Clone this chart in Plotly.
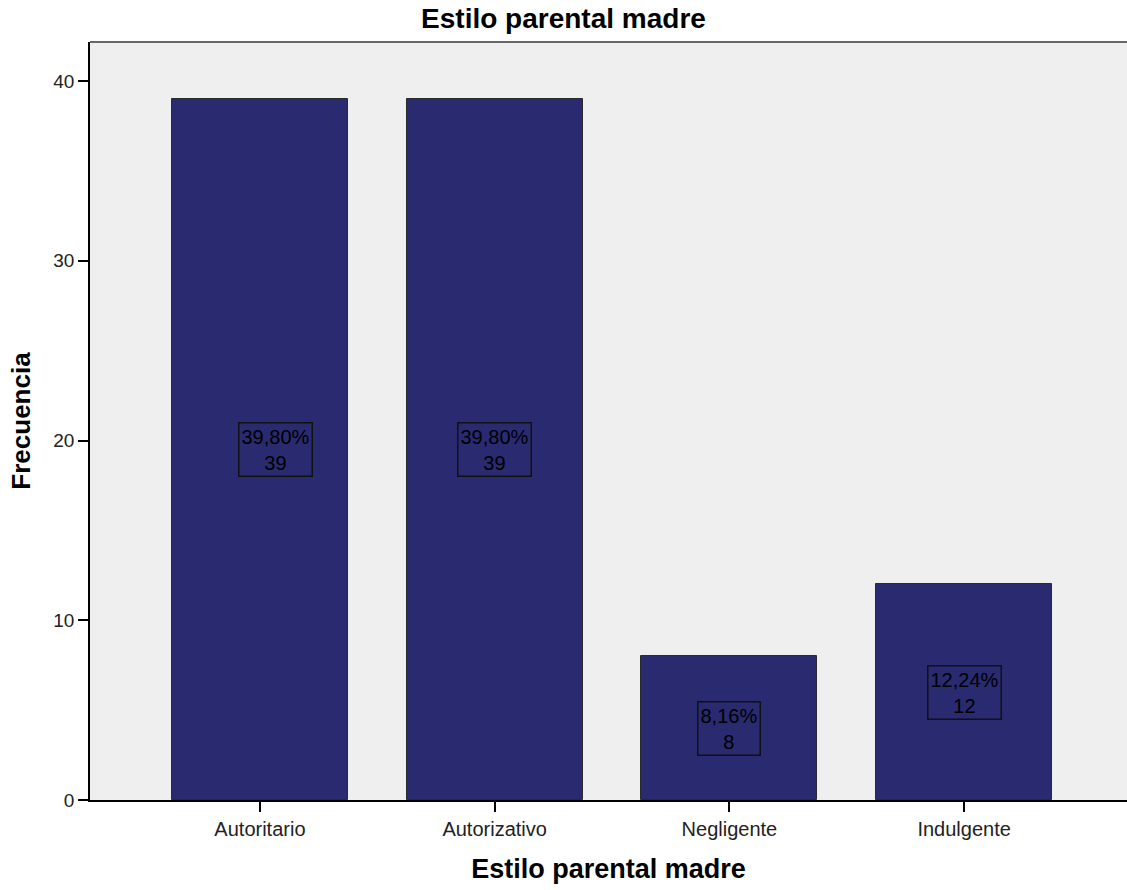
import plotly.graph_objects as go

categories = ["Autoritario", "Autorizativo", "Negligente", "Indulgente"]
counts = [39, 39, 8, 12]
percent_labels = ["39,80%", "39,80%", "8,16%", "12,24%"]
y_ticks = [0, 10, 20, 30, 40]

bar_color = "#292A70"
font_family = "Arial, Liberation Sans, sans-serif"

fig = go.Figure()
fig.add_trace(go.Bar(
    x=list(range(len(categories))),
    y=counts,
    width=0.75,
    marker=dict(color=bar_color, line=dict(color="#2a2a2a", width=1)),
    hoverinfo="skip",
    showlegend=False,
))

for i, (c, p) in enumerate(zip(counts, percent_labels)):
    fig.add_annotation(
        x=i, y=c / 2, xref="x", yref="y",
        text=f"{p}<br>{c}",
        showarrow=False,
        xshift=16 if i == 0 else 0,
        font=dict(family=font_family, size=20, color="#000000"),
        bordercolor="#111111", borderwidth=1.5, borderpad=2,
        align="center",
    )

fig.update_layout(
    width=1127, height=890,
    margin=dict(l=90, r=0, t=42, b=90),
    paper_bgcolor="white",
    plot_bgcolor="#EFEFEF",
    title=dict(text="<b>Estilo parental madre</b>", x=0.5, xanchor="center",
               y=0.98, yanchor="middle",
               font=dict(family=font_family, size=28, color="#000000")),
    xaxis=dict(
        tickmode="array", tickvals=list(range(len(categories))), ticktext=categories,
        range=[-0.724, 3.694],
        showgrid=False, zeroline=False,
        ticks="outside", ticklen=10, tickcolor="#000", tickwidth=1.5,
        showline=True, linecolor="#000", linewidth=1.5,
        tickfont=dict(family=font_family, size=20, color="#222"),
        title=dict(text="<b>Estilo parental madre</b>", standoff=20,
                   font=dict(family=font_family, size=27, color="#000")),
        mirror=False,
    ),
    yaxis=dict(
        range=[0, 42.17],
        tickmode="array", tickvals=y_ticks,
        showgrid=False, zeroline=False,
        ticks="outside", ticklen=10, tickcolor="#000", tickwidth=1.5,
        showline=True, linecolor="#000", linewidth=1.5,
        tickfont=dict(family=font_family, size=19, color="#222"),
        title=dict(text="<b>Frecuencia</b>", standoff=15,
                   font=dict(family=font_family, size=26, color="#000")),
    ),
    bargap=0,
)

# top border of plot area
fig.add_shape(type="line", xref="paper", yref="paper", x0=0, x1=1, y0=1, y1=1,
              line=dict(color="#666666", width=2))

fig.write_html("out.html", config={"displayModeBar": False},
               post_script="document.body.style.margin='0';")
